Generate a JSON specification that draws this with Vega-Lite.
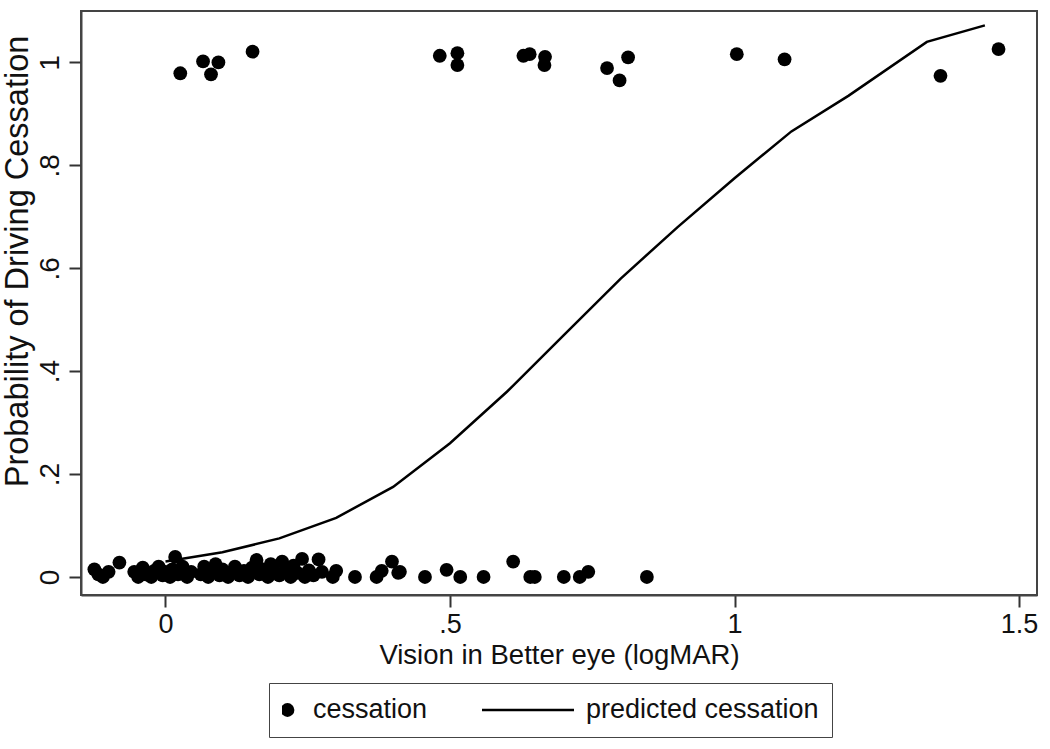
{
  "$schema": "https://vega.github.io/schema/vega-lite/v6.json",
  "width": 956,
  "height": 584,
  "autosize": {"type": "none"},
  "padding": {"left": 81, "top": 11, "right": 13, "bottom": 154},
  "background": "white",
  "config": {
    "font": "Liberation Sans",
    "view": {"stroke": "#444444", "strokeWidth": 2},
    "axis": {"grid": false, "domainColor": "#444444", "domainWidth": 2, "tickColor": "#333333", "tickWidth": 2, "tickSize": 12, "labelColor": "#111111", "titleColor": "#111111", "titleFontWeight": "normal"}
  },
  "datasets": {
    "points": [
      {"vision": 0.026, "cessation": 0.979, "series": "cessation"},
      {"vision": 0.066, "cessation": 1.002, "series": "cessation"},
      {"vision": 0.093, "cessation": 1.000, "series": "cessation"},
      {"vision": 0.080, "cessation": 0.977, "series": "cessation"},
      {"vision": 0.153, "cessation": 1.021, "series": "cessation"},
      {"vision": 0.482, "cessation": 1.013, "series": "cessation"},
      {"vision": 0.513, "cessation": 1.018, "series": "cessation"},
      {"vision": 0.513, "cessation": 0.995, "series": "cessation"},
      {"vision": 0.629, "cessation": 1.013, "series": "cessation"},
      {"vision": 0.640, "cessation": 1.016, "series": "cessation"},
      {"vision": 0.667, "cessation": 1.011, "series": "cessation"},
      {"vision": 0.666, "cessation": 0.995, "series": "cessation"},
      {"vision": 0.776, "cessation": 0.989, "series": "cessation"},
      {"vision": 0.813, "cessation": 1.010, "series": "cessation"},
      {"vision": 0.798, "cessation": 0.965, "series": "cessation"},
      {"vision": 1.004, "cessation": 1.016, "series": "cessation"},
      {"vision": 1.088, "cessation": 1.006, "series": "cessation"},
      {"vision": 1.362, "cessation": 0.974, "series": "cessation"},
      {"vision": 1.464, "cessation": 1.026, "series": "cessation"},
      {"vision": -0.125, "cessation": 0.015, "series": "cessation"},
      {"vision": -0.118, "cessation": 0.005, "series": "cessation"},
      {"vision": -0.110, "cessation": 0.000, "series": "cessation"},
      {"vision": -0.100, "cessation": 0.010, "series": "cessation"},
      {"vision": -0.081, "cessation": 0.028, "series": "cessation"},
      {"vision": -0.055, "cessation": 0.010, "series": "cessation"},
      {"vision": -0.048, "cessation": 0.000, "series": "cessation"},
      {"vision": -0.040, "cessation": 0.018, "series": "cessation"},
      {"vision": -0.035, "cessation": 0.005, "series": "cessation"},
      {"vision": -0.025, "cessation": 0.000, "series": "cessation"},
      {"vision": -0.020, "cessation": 0.012, "series": "cessation"},
      {"vision": -0.012, "cessation": 0.020, "series": "cessation"},
      {"vision": -0.005, "cessation": 0.003, "series": "cessation"},
      {"vision": 0.000, "cessation": 0.010, "series": "cessation"},
      {"vision": 0.008, "cessation": 0.000, "series": "cessation"},
      {"vision": 0.012, "cessation": 0.015, "series": "cessation"},
      {"vision": 0.017, "cessation": 0.039, "series": "cessation"},
      {"vision": 0.022, "cessation": 0.005, "series": "cessation"},
      {"vision": 0.030, "cessation": 0.020, "series": "cessation"},
      {"vision": 0.038, "cessation": 0.000, "series": "cessation"},
      {"vision": 0.045, "cessation": 0.010, "series": "cessation"},
      {"vision": 0.062, "cessation": 0.005, "series": "cessation"},
      {"vision": 0.068, "cessation": 0.020, "series": "cessation"},
      {"vision": 0.075, "cessation": 0.000, "series": "cessation"},
      {"vision": 0.080, "cessation": 0.012, "series": "cessation"},
      {"vision": 0.088, "cessation": 0.025, "series": "cessation"},
      {"vision": 0.095, "cessation": 0.003, "series": "cessation"},
      {"vision": 0.100, "cessation": 0.015, "series": "cessation"},
      {"vision": 0.110, "cessation": 0.000, "series": "cessation"},
      {"vision": 0.115, "cessation": 0.008, "series": "cessation"},
      {"vision": 0.122, "cessation": 0.020, "series": "cessation"},
      {"vision": 0.130, "cessation": 0.003, "series": "cessation"},
      {"vision": 0.138, "cessation": 0.012, "series": "cessation"},
      {"vision": 0.145, "cessation": 0.000, "series": "cessation"},
      {"vision": 0.152, "cessation": 0.018, "series": "cessation"},
      {"vision": 0.160, "cessation": 0.033, "series": "cessation"},
      {"vision": 0.165, "cessation": 0.005, "series": "cessation"},
      {"vision": 0.172, "cessation": 0.015, "series": "cessation"},
      {"vision": 0.180, "cessation": 0.000, "series": "cessation"},
      {"vision": 0.185, "cessation": 0.025, "series": "cessation"},
      {"vision": 0.192, "cessation": 0.010, "series": "cessation"},
      {"vision": 0.200, "cessation": 0.003, "series": "cessation"},
      {"vision": 0.205, "cessation": 0.030, "series": "cessation"},
      {"vision": 0.212, "cessation": 0.015, "series": "cessation"},
      {"vision": 0.220, "cessation": 0.000, "series": "cessation"},
      {"vision": 0.225, "cessation": 0.022, "series": "cessation"},
      {"vision": 0.232, "cessation": 0.008, "series": "cessation"},
      {"vision": 0.240, "cessation": 0.035, "series": "cessation"},
      {"vision": 0.245, "cessation": 0.000, "series": "cessation"},
      {"vision": 0.252, "cessation": 0.013, "series": "cessation"},
      {"vision": 0.260, "cessation": 0.003, "series": "cessation"},
      {"vision": 0.269, "cessation": 0.034, "series": "cessation"},
      {"vision": 0.275, "cessation": 0.010, "series": "cessation"},
      {"vision": 0.294, "cessation": 0.000, "series": "cessation"},
      {"vision": 0.300, "cessation": 0.012, "series": "cessation"},
      {"vision": 0.333, "cessation": 0.000, "series": "cessation"},
      {"vision": 0.371, "cessation": 0.000, "series": "cessation"},
      {"vision": 0.380, "cessation": 0.012, "series": "cessation"},
      {"vision": 0.398, "cessation": 0.030, "series": "cessation"},
      {"vision": 0.409, "cessation": 0.008, "series": "cessation"},
      {"vision": 0.412, "cessation": 0.010, "series": "cessation"},
      {"vision": 0.456, "cessation": 0.000, "series": "cessation"},
      {"vision": 0.494, "cessation": 0.014, "series": "cessation"},
      {"vision": 0.518, "cessation": 0.000, "series": "cessation"},
      {"vision": 0.559, "cessation": 0.000, "series": "cessation"},
      {"vision": 0.611, "cessation": 0.030, "series": "cessation"},
      {"vision": 0.641, "cessation": 0.000, "series": "cessation"},
      {"vision": 0.649, "cessation": 0.000, "series": "cessation"},
      {"vision": 0.700, "cessation": 0.000, "series": "cessation"},
      {"vision": 0.728, "cessation": 0.000, "series": "cessation"},
      {"vision": 0.743, "cessation": 0.010, "series": "cessation"},
      {"vision": 0.846, "cessation": 0.000, "series": "cessation"}
    ],
    "predicted": [
      {"vision": 0.00, "p": 0.030},
      {"vision": 0.10, "p": 0.048},
      {"vision": 0.20, "p": 0.075},
      {"vision": 0.30, "p": 0.115},
      {"vision": 0.40, "p": 0.175},
      {"vision": 0.50, "p": 0.260},
      {"vision": 0.60, "p": 0.360},
      {"vision": 0.70, "p": 0.470},
      {"vision": 0.80, "p": 0.580},
      {"vision": 0.90, "p": 0.680},
      {"vision": 1.00, "p": 0.775},
      {"vision": 1.10, "p": 0.866},
      {"vision": 1.20, "p": 0.935},
      {"vision": 1.338, "p": 1.040},
      {"vision": 1.440, "p": 1.072}
    ]
  },
  "layer": [
    {
      "data": {"name": "points"},
      "mark": {"type": "point", "filled": true, "opacity": 1, "color": "black", "strokeWidth": 0},
      "encoding": {
        "x": {"field": "vision", "type": "quantitative", "scale": {"domain": [-0.1485, 1.5316], "nice": false, "zero": false},
          "axis": {"values": [0, 0.5, 1, 1.5], "format": "~g", "labelExpr": "datum.value > 0 && datum.value < 1 ? substring(datum.label, 1) : datum.label", "labelFontSize": 27, "labelPadding": 4, "labelBaseline": "top", "title": "Vision in Better eye (logMAR)", "titleFontSize": 27.5, "titleBaseline": "alphabetic", "titleY": 68}},
        "y": {"field": "cessation", "type": "quantitative", "scale": {"domain": [-0.035, 1.1], "nice": false, "zero": false},
          "axis": {"values": [0, 0.2, 0.4, 0.6, 0.8, 1], "format": "~g", "labelExpr": "datum.value > 0 && datum.value < 1 ? substring(datum.label, 1) : datum.label", "labelFontSize": 28, "labelAngle": 270, "labelAlign": "center", "labelBaseline": "alphabetic", "labelPadding": 11, "title": "Probability of Driving Cessation", "titleFontSize": 32.5, "titleAngle": 270, "titleAlign": "center", "titleBaseline": "alphabetic", "titleX": -54, "titleY": 250}},
        "shape": {"field": "series", "type": "nominal", "scale": {"domain": ["cessation", "predicted cessation"], "range": ["circle", "M-1,-0.025L1,-0.025L1,0.025L-1,0.025Z"]},
          "legend": {"title": null, "orient": "none", "legendX": 188, "legendY": 672, "direction": "horizontal", "padding": 13, "clipHeight": 28, "strokeColor": "#444444", "labelFontSize": 27, "labelLimit": 400, "labelColor": "#111111", "labelOffset": 12, "symbolOffset": -8, "columnPadding": 54, "symbolFillColor": "black", "symbolStrokeWidth": 0, "symbolOpacity": 1,
            "encode": {"legend": {"update": {"strokeWidth": {"value": 2}}}, "symbols": {"update": {"fill": {"value": "black"}, "opacity": {"value": 1}}}}}},
        "size": {"field": "series", "type": "nominal", "scale": {"domain": ["cessation", "predicted cessation"], "range": [190, 10000]},
          "legend": {"title": null, "orient": "none", "legendX": 188, "legendY": 672, "direction": "horizontal", "padding": 13, "clipHeight": 28, "strokeColor": "#444444", "labelFontSize": 27, "labelLimit": 400, "labelColor": "#111111", "labelOffset": 12, "symbolOffset": -8, "columnPadding": 54, "symbolFillColor": "black", "symbolStrokeWidth": 0, "symbolOpacity": 1,
            "encode": {"legend": {"update": {"strokeWidth": {"value": 2}}}, "symbols": {"update": {"fill": {"value": "black"}, "opacity": {"value": 1}}}}}}
      }
    },
    {
      "data": {"name": "predicted"},
      "mark": {"type": "line", "color": "black", "strokeWidth": 2.5},
      "encoding": {
        "x": {"field": "vision", "type": "quantitative"},
        "y": {"field": "p", "type": "quantitative"}
      }
    }
  ]
}
